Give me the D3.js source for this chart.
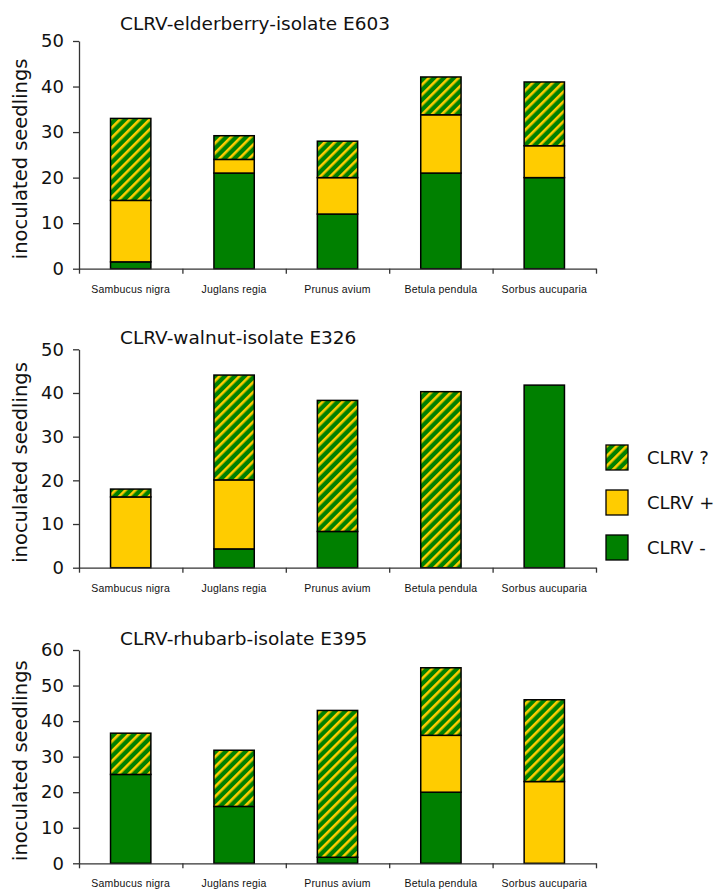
<!DOCTYPE html>
<html>
<head>
<meta charset="utf-8">
<script src="https://cdn.jsdelivr.net/npm/d3@7"></script>
<style>
  body { margin: 0; background: #fff; }
  svg text { font-family: "DejaVu Sans", Verdana, sans-serif; fill: #111; }
  .xlab { font-family: "Liberation Sans", Arial, sans-serif !important; }
</style>
</head>
<body>
<script>
// species on the x axis
var species = ["Sambucus nigra", "Juglans regia", "Prunus avium", "Betula pendula", "Sorbus aucuparia"];

var titles = ["CLRV-elderberry-isolate E603", "CLRV-walnut-isolate E326", "CLRV-rhubarb-isolate E395"];

// inoculated seedlings per class (CLRV -, CLRV +, CLRV ?)
var elderNeg = [1.5, 21, 12, 21, 20];
var elderPos = [13.5, 3, 8, 12.8, 7];
var elderUnk = [18, 5.2, 8, 8.3, 14];

var walnutNeg = [0, 4.3, 8.3, 0, 41.8];
var walnutPos = [16.2, 15.8, 0, 0, 0];
var walnutUnk = [1.8, 24, 30, 40.3, 0];

var rhubarbNeg = [25, 16, 1.7, 20, 0];
var rhubarbPos = [0, 0, 0, 16, 23];
var rhubarbUnk = [11.6, 15.8, 41.3, 19, 23];

var yMax = [50, 50, 60];
var ticks50 = [0, 10, 20, 30, 40, 50];
var ticks60 = [0, 10, 20, 30, 40, 50, 60];

var legendLabels = ["CLRV ?", "CLRV +", "CLRV -"];

var green = "#008000";
var yellow = "#ffcc00";

var svg = d3.select("body")
            .append("svg")
            .attr("width", 717)
            .attr("height", 891);

// diagonal stripes for "CLRV ?"
var pat = svg.append("defs").append("pattern")
  .attr("id", "hatch")
  .attr("patternUnits", "userSpaceOnUse")
  .attr("width", 7)
  .attr("height", 7)
  .attr("patternTransform", "rotate(45)");
pat.append("rect").attr("width", 7).attr("height", 7).attr("fill", green);
pat.append("rect").attr("width", 2.6).attr("height", 7).attr("fill", yellow);

var fills = { neg: green, pos: yellow, unk: "url(#hatch)" };

// panel layout
var panels = [
  { top: 41, bottom: 268.7, titleY: 30, neg: elderNeg, pos: elderPos, unk: elderUnk, ticks: ticks50 },
  { top: 349.3, bottom: 567.7, titleY: 344, neg: walnutNeg, pos: walnutPos, unk: walnutUnk, ticks: ticks50 },
  { top: 650, bottom: 863.3, titleY: 645, neg: rhubarbNeg, pos: rhubarbPos, unk: rhubarbUnk, ticks: ticks60 }
];

var left = 79, right = 596;

var xScale = d3.scaleBand()
  .domain(species)
  .range([left, right])
  .paddingInner(0.61)
  .paddingOuter(0.305);

var edgeScale = d3.scaleLinear().domain([0, species.length]).range([left, right]);

var stack = d3.stack().keys(["neg", "pos", "unk"]);

panels.forEach(function(p, i) {
  var rows = species.map(function(s, j) {
    return { species: s, neg: p.neg[j], pos: p.pos[j], unk: p.unk[j] };
  });

  var yScale = d3.scaleLinear()
    .domain([0, yMax[i]])
    .range([p.bottom, p.top]);

  var g = svg.append("g");

  // bars
  var series = g.selectAll("g.series")
    .data(stack(rows))
    .enter()
    .append("g")
    .attr("fill", function(d) { return fills[d.key]; });

  series.selectAll("rect")
    .data(function(d) { return d.filter(function(e) { return e[1] - e[0] > 0; }); })
    .enter()
    .append("rect")
    .attr("x", function(d) { return xScale(d.data.species); })
    .attr("width", xScale.bandwidth())
    .attr("y", function(d) { return yScale(d[1]); })
    .attr("height", function(d) { return yScale(d[0]) - yScale(d[1]); })
    .attr("stroke", "#000")
    .attr("stroke-width", 1.5);

  // y axis
  var yAxis = d3.axisLeft(yScale)
    .tickValues(p.ticks)
    .tickSize(6)
    .tickSizeOuter(0)
    .tickPadding(9);
  var yg = g.append("g")
    .attr("transform", "translate(" + left + ",0)")
    .call(yAxis);
  yg.selectAll("path, line").attr("stroke", "#333").attr("stroke-width", 1.3);
  yg.selectAll("text").attr("font-size", "18px").attr("font-family", "DejaVu Sans");

  // x axis, ticks between categories
  var xAxis = d3.axisBottom(edgeScale)
    .tickValues(d3.range(species.length + 1))
    .tickFormat("")
    .tickSize(5)
    .tickSizeOuter(0);
  var xg = g.append("g")
    .attr("transform", "translate(0," + p.bottom + ")")
    .call(xAxis);
  xg.selectAll("path, line").attr("stroke", "#333").attr("stroke-width", 1.3);

  // category labels
  g.selectAll("text.xlab")
    .data(species)
    .enter()
    .append("text")
    .attr("class", "xlab")
    .attr("x", function(d) { return xScale(d) + xScale.bandwidth() / 2; })
    .attr("y", p.bottom + 24)
    .attr("text-anchor", "middle")
    .attr("font-size", "10.5px")
    .attr("letter-spacing", "0.2px")
    .text(function(d) { return d; });

  // title
  g.append("text")
    .attr("x", 120)
    .attr("y", p.titleY)
    .attr("font-size", "18.5px")
    .text(titles[i]);

  // y axis label
  g.append("text")
    .attr("transform", "translate(27," + ((p.top + p.bottom) / 2 + 4) + ") rotate(-90)")
    .attr("text-anchor", "middle")
    .attr("font-size", "19.5px")
    .text("inoculated seedlings");
});

// legend
var legendFills = [fills.unk, fills.pos, fills.neg];
var legend = svg.selectAll("g.legend")
  .data(legendLabels)
  .enter()
  .append("g")
  .attr("transform", function(d, i) { return "translate(606," + (445 + i * 45) + ")"; });

legend.append("rect")
  .attr("width", 22)
  .attr("height", 25)
  .attr("fill", function(d, i) { return legendFills[i]; })
  .attr("stroke", "#000")
  .attr("stroke-width", 1.3);

legend.append("text")
  .attr("x", 41)
  .attr("y", 19)
  .attr("font-size", "18px")
  .text(function(d) { return d; });
</script>
</body>
</html>
